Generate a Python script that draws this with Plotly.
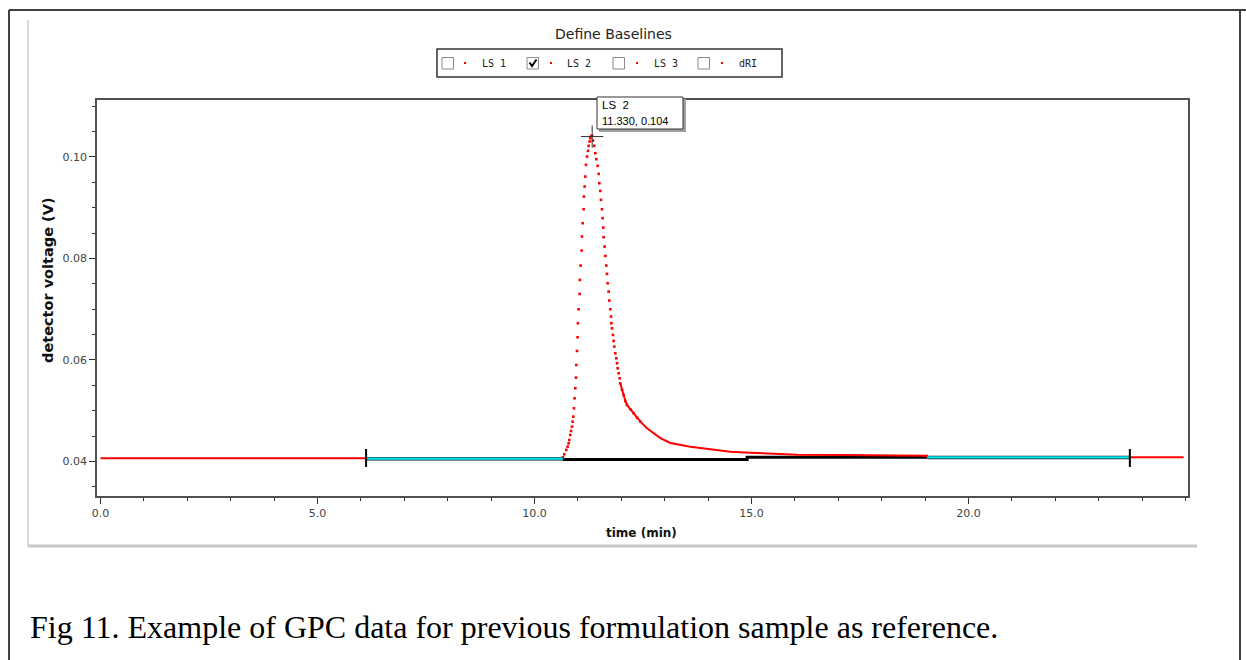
import plotly.graph_objects as go

# ---------------- data ----------------
ls2_time = [0.0, 10.620,
            10.656, 10.687, 10.733, 10.764, 10.787, 10.802, 10.825, 10.841, 10.864, 10.879,
            10.895, 10.910, 10.925, 10.941, 10.956, 10.964, 10.979, 10.994, 11.002, 11.018,
            11.041, 11.045, 11.064, 11.087, 11.094, 11.110, 11.133, 11.140, 11.156, 11.171,
            11.187, 11.210, 11.233, 11.248, 11.271, 11.287, 11.310, 11.330,
            11.348, 11.379, 11.402, 11.425, 11.456, 11.479, 11.494, 11.517, 11.533, 11.556,
            11.571, 11.586, 11.594, 11.617, 11.632, 11.655, 11.671, 11.686, 11.709, 11.725,
            11.748, 11.763, 11.771, 11.786, 11.809, 11.825, 11.840, 11.863, 11.886, 11.902,
            11.917, 11.940, 11.963, 11.978, 12.017, 12.055, 12.094, 12.132, 12.209, 12.286,
            12.363, 12.440, 12.593, 12.747, 12.901, 13.131, 13.592, 14.053, 14.514, 14.975,
            15.368, 16.060, 17.051, 17.973, 19.050, 19.060, 23.720, 24.960]
ls2_volt = [0.04065, 0.04065,
            0.04082, 0.04141, 0.04227, 0.04292, 0.04358, 0.04424, 0.04522, 0.04601, 0.04686, 0.04785,
            0.04883, 0.05048, 0.05245, 0.05442, 0.05652, 0.05901, 0.06177, 0.06447, 0.06723, 0.06998,
            0.07300, 0.07576, 0.07859, 0.08154, 0.08430, 0.08693, 0.08969, 0.09218, 0.09415, 0.09612,
            0.09842, 0.10006, 0.10118, 0.10217, 0.10302, 0.10368, 0.10410, 0.10414,
            0.10322, 0.10217, 0.10072, 0.09954, 0.09823, 0.09665, 0.09481, 0.09330, 0.09153, 0.08969,
            0.08792, 0.08607, 0.08417, 0.08233, 0.08049, 0.07859, 0.07695, 0.07511, 0.07346, 0.07169,
            0.06998, 0.06854, 0.06723, 0.06624, 0.06493, 0.06374, 0.06263, 0.06131, 0.06033, 0.05934,
            0.05836, 0.05737, 0.05639, 0.05540, 0.05409, 0.05310, 0.05192, 0.05113, 0.05028, 0.04949,
            0.04864, 0.04785, 0.04654, 0.04555, 0.04460, 0.04365, 0.04292, 0.04240, 0.04193, 0.04173,
            0.04154, 0.04134, 0.04128, 0.04118, 0.04114, 0.04080, 0.04080, 0.04083]

# baseline pieces
baseline_time = [6.12, 10.656, None, 19.05, 23.72]
baseline_volt = [0.04055, 0.04055, None, 0.04079, 0.04079]
region_time = [10.656, 14.90, 14.90, 19.05]
region_volt = [0.04040, 0.04040, 0.04082, 0.04082]
end_marker_time = [6.12, 6.12, None, 23.72, 23.72]
end_marker_volt = [0.03892, 0.04246, None, 0.03892, 0.04246]

peak_time = 11.330
peak_volt = 0.104

x_tick_vals = [0, 5, 10, 15, 20]
x_tick_text = ["0.0", "5.0", "10.0", "15.0", "20.0"]
y_tick_vals = [0.04, 0.06, 0.08, 0.10]
y_tick_text = ["0.04", "0.06", "0.08", "0.10"]

legend_labels = ["LS 1", "LS 2", "LS 3", "dRI"]
legend_checked = [False, True, False, False]

# ---------------- layout geometry (pixels) ----------------
W, H = 1246, 660
PL, PR, PT, PB = 97, 1188, 100, 496


def fx(px):
    return (px - PL) / (PR - PL)


def fy(py):
    return (PB - py) / (PB - PT)


# split red series into dotted peak and continuous flat parts
dot_t, dot_v, line_t, line_v = [], [], [], []
for t, v in zip(ls2_time, ls2_volt):
    if 10.65 <= t <= 12.45:
        dot_t.append(t)
        dot_v.append(v)
for t, v in zip(ls2_time, ls2_volt):
    if t <= 10.656:
        line_t.append(t)
        line_v.append(v)
line_t.append(None)
line_v.append(None)
for t, v in zip(ls2_time, ls2_volt):
    if t >= 11.978:
        line_t.append(t)
        line_v.append(v)

fig = go.Figure()

fig.add_trace(go.Scatter(x=region_time, y=region_volt, mode="lines",
                         line=dict(color="black", width=3), hoverinfo="skip"))
fig.add_trace(go.Scatter(x=line_t, y=line_v, mode="lines",
                         line=dict(color="#ff0000", width=2), hoverinfo="skip"))
fig.add_trace(go.Scatter(x=dot_t, y=dot_v, mode="markers",
                         marker=dict(color="#ff0000", size=2.6, symbol="square",
                                     line=dict(width=0)), hoverinfo="skip"))
fig.add_trace(go.Scatter(x=baseline_time, y=baseline_volt, mode="lines",
                         line=dict(color="#1a1a1a", width=3.5), hoverinfo="skip"))
fig.add_trace(go.Scatter(x=baseline_time, y=baseline_volt, mode="lines",
                         line=dict(color="#00e8f0", width=2.2), hoverinfo="skip"))
fig.add_trace(go.Scatter(x=end_marker_time, y=end_marker_volt, mode="lines",
                         line=dict(color="black", width=2), hoverinfo="skip"))
fig.add_trace(go.Scatter(x=[peak_time], y=[peak_volt], mode="markers",
                         marker=dict(symbol="cross-thin", size=16,
                                     line=dict(color="#333333", width=1)),
                         hoverinfo="skip"))

axis_common = dict(showgrid=False, zeroline=False, showline=True, mirror=True,
                   linecolor="#505050", linewidth=1.5, ticks="outside",
                   tickcolor="#333333", tickwidth=1,
                   tickfont=dict(family="DejaVu Sans", size=11, color="#444444"))

fig.update_xaxes(range=[-0.081, 25.06], tickmode="array", tickvals=x_tick_vals,
                 ticktext=x_tick_text, ticklen=6,
                 minor=dict(dtick=1, tick0=0, ticks="outside", ticklen=3,
                            tickcolor="#333333", showgrid=False),
                 **axis_common)
fig.update_yaxes(range=[0.0332, 0.1112], tickmode="array", tickvals=y_tick_vals,
                 ticktext=y_tick_text, ticklen=6,
                 minor=dict(dtick=0.005, tick0=0, ticks="outside", ticklen=3,
                            tickcolor="#333333", showgrid=False),
                 **axis_common)

shapes = []
annotations = []

# outer figure frame (black) and grey chart panel
shapes.append(dict(type="line", xref="paper", yref="paper", x0=fx(9), x1=fx(W + 5),
                   y0=fy(10), y1=fy(10), line=dict(color="#404040", width=2)))
shapes.append(dict(type="line", xref="paper", yref="paper", x0=fx(9), x1=fx(9),
                   y0=fy(10), y1=fy(H + 5), line=dict(color="#404040", width=2)))
shapes.append(dict(type="line", xref="paper", yref="paper", x0=fx(1240), x1=fx(1240),
                   y0=fy(10), y1=fy(H + 5), line=dict(color="#404040", width=2)))
shapes.append(dict(type="line", xref="paper", yref="paper", x0=fx(28), x1=fx(28),
                   y0=fy(20), y1=fy(546), line=dict(color="#b4b4b4", width=1)))
shapes.append(dict(type="line", xref="paper", yref="paper", x0=fx(28), x1=fx(1197),
                   y0=fy(546), y1=fy(546), line=dict(color="#c8c8c8", width=3)))

# legend box
shapes.append(dict(type="rect", xref="paper", yref="paper", x0=fx(437), x1=fx(782),
                   y0=fy(77), y1=fy(49), line=dict(color="#333333", width=1.5),
                   fillcolor="white"))
box_x = [442, 527, 613, 698]
dot_x = [465, 551, 637, 722]
lab_x = [480, 565, 652, 737]
for i, lab in enumerate(legend_labels):
    shapes.append(dict(type="rect", xref="paper", yref="paper", x0=fx(box_x[i]),
                       x1=fx(box_x[i] + 11.5), y0=fy(69), y1=fy(57.5),
                       line=dict(color="#8a8a8a", width=1), fillcolor="white"))
    shapes.append(dict(type="rect", xref="paper", yref="paper", x0=fx(dot_x[i] - 1),
                       x1=fx(dot_x[i] + 1), y0=fy(64), y1=fy(62),
                       line=dict(width=0), fillcolor="#ff0000"))
    if legend_checked[i]:
        bx = box_x[i]
        shapes.append(dict(type="path", xref="paper", yref="paper",
                           path=f"M {fx(bx + 2.5)} {fy(62.5)} L {fx(bx + 5)} {fy(66)} L {fx(bx + 9.5)} {fy(59.5)}",
                           line=dict(color="black", width=2)))
    annotations.append(dict(xref="paper", yref="paper", x=fx(lab_x[i]), y=fy(63.5),
                            text=lab, showarrow=False, xanchor="left", yanchor="middle",
                            font=dict(family="DejaVu Sans Mono", size=10, color="#222222")))

# tooltip
shapes.append(dict(type="rect", xref="paper", yref="paper", x0=fx(599), x1=fx(686),
                   y0=fy(132), y1=fy(99), line=dict(width=0), fillcolor="#a0a0a0"))
shapes.append(dict(type="rect", xref="paper", yref="paper", x0=fx(597), x1=fx(683),
                   y0=fy(129), y1=fy(97), line=dict(color="#333333", width=1),
                   fillcolor="white"))
annotations.append(dict(xref="paper", yref="paper", x=fx(599.5), y=fy(105.5),
                        text="LS&nbsp;&nbsp;2", showarrow=False, xanchor="left",
                        yanchor="middle",
                        font=dict(family="Liberation Sans", size=11.5, color="black")))
annotations.append(dict(xref="paper", yref="paper", x=fx(599.5), y=fy(121),
                        text=f"{peak_time:.3f}, {peak_volt:.3f}", showarrow=False,
                        xanchor="left", yanchor="middle",
                        font=dict(family="Liberation Sans", size=11, color="black")))

# titles
annotations.append(dict(xref="paper", yref="paper", x=fx(613), y=fy(34),
                        text="Define Baselines", showarrow=False, xanchor="center",
                        yanchor="middle",
                        font=dict(family="DejaVu Sans", size=14, color="#222222")))
annotations.append(dict(xref="paper", yref="paper", x=fx(641), y=fy(533),
                        text="time (min)", showarrow=False, xanchor="center",
                        yanchor="middle",
                        font=dict(family="DejaVu Sans", size=12, color="#111111",
                                  weight="bold")))
annotations.append(dict(xref="paper", yref="paper", x=fx(48), y=fy(280),
                        text="detector voltage (V)", showarrow=False, textangle=-90,
                        xanchor="center", yanchor="middle",
                        font=dict(family="DejaVu Sans", size=14.5, color="#111111",
                                  weight="bold")))
annotations.append(dict(xref="paper", yref="paper", x=fx(28), y=fy(627),
                        text="Fig 11. Example of GPC data for previous formulation sample as reference.",
                        showarrow=False, xanchor="left", yanchor="middle",
                        font=dict(family="Liberation Serif", size=32, color="black")))

fig.update_layout(width=W, height=H, margin=dict(l=PL, r=W - PR, t=PT, b=H - PB),
                  paper_bgcolor="white", plot_bgcolor="white", showlegend=False,
                  shapes=shapes, annotations=annotations)

fig.write_html("out.html", config={"displayModeBar": False},
               post_script="document.body.style.margin='0';document.body.style.overflow='hidden';")
